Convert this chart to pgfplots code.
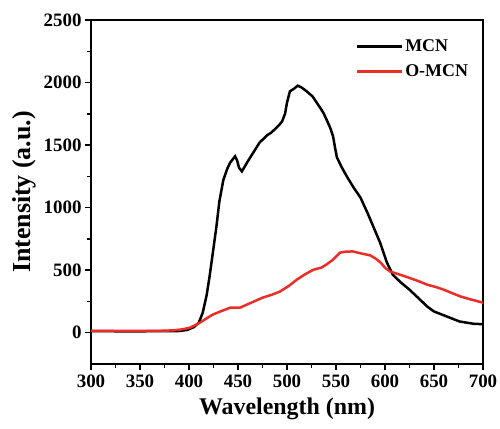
\documentclass[border=0pt]{standalone}
\usepackage{pgfplots}
\pgfplotsset{compat=1.18}
\usepackage{fontspec}
\setmainfont{Liberation Serif}
\definecolor{myred}{RGB}{235,45,40}
\begin{document}
\begin{tikzpicture}
\begin{axis}[
  scale only axis,
  width=392bp, height=344bp,
  xmin=300, xmax=700, ymin=-250, ymax=2500,
  xtick={300,350,...,700}, ytick={0,500,...,2500},
  minor x tick num=1, minor y tick num=1,
  xtick pos=bottom, ytick pos=left,
  tick align=outside,
  major tick length=6bp, minor tick length=3.5bp,
  every tick/.style={line width=1.4bp, black},
  axis line style={line width=1.6bp},
  /pgf/number format/assume math mode=true,
  /pgf/number format/1000 sep={},
  ticklabel style={font=\bfseries\fontsize{19}{19}\selectfont},
  xticklabel style={yshift=-1bp},
  xlabel={Wavelength (nm)},
  ylabel={Intensity (a.u.)},
  xlabel style={font=\bfseries\fontsize{24}{24}\selectfont, yshift=-4bp},
  ylabel style={font=\bfseries\fontsize{26}{26}\selectfont, yshift=1bp},
  legend style={draw=none, fill=none, at={(rel axis cs:0.975,0.955)}, anchor=north east,
    font=\bfseries\fontsize{18}{18}\selectfont, row sep=8bp,
    /tikz/every even column/.append style={column sep=0bp}},
  legend cell align=left,
  legend image code/.code={\draw[#1] (0bp,0bp) -- (45bp,0bp);},
]
\addplot[black, line width=2.5bp] coordinates {
(300,12) (320,12) (340,11) (360,12) (380,12) (390,14) (398,22) (405,45) (410,80)
(414,160) (418,300) (421,450) (424,620) (428,850) (431,1050) (435,1220) (439,1310)
(442,1360) (445,1390) (447,1410) (449,1380) (451,1320) (454,1290) (457,1330) (460,1370)
(464,1420) (468,1470) (472,1520) (476,1550) (480,1580) (484,1600) (488,1630) (492,1660)
(495,1690) (498,1750) (500,1840) (503,1930) (507,1950) (511,1975) (515,1960) (520,1930)
(526,1890) (532,1820) (537,1760) (540,1710) (544,1640) (547,1570) (549,1480) (551,1400)
(556,1320) (561,1250) (568,1160) (575,1080) (582,960) (588,850) (595,720) (602,560)
(608,464) (615,410) (625,344) (635,270) (643,210) (650,170) (663,130) (676,90) (690,72) (700,68)
};
\addlegendentry{MCN}
\addplot[myred, line width=2.5bp] coordinates {
(300,15) (320,15) (340,14) (360,15) (375,16) (385,20) (392,26) (400,38) (405,55) (411,80)
(418,115) (424,144) (432,170) (442,200) (452,200) (462,235) (475,280) (485,305) (493,330)
(502,375) (510,424) (518,465) (527,504) (535,520) (540,544) (547,584) (554,640) (560,648)
(567,650) (575,635) (585,618) (590,595) (595,565) (600,520) (605,490) (615,465) (625,438)
(635,410) (643,384) (652,365) (660,344) (668,318) (677,290) (688,265) (700,240)
};
\addlegendentry{O-MCN}
\end{axis}
\pgfresetboundingbox
\path (current axis.south west) ++(-91bp,-65bp) rectangle ++(500bp,429bp);
\end{tikzpicture}
\end{document}
